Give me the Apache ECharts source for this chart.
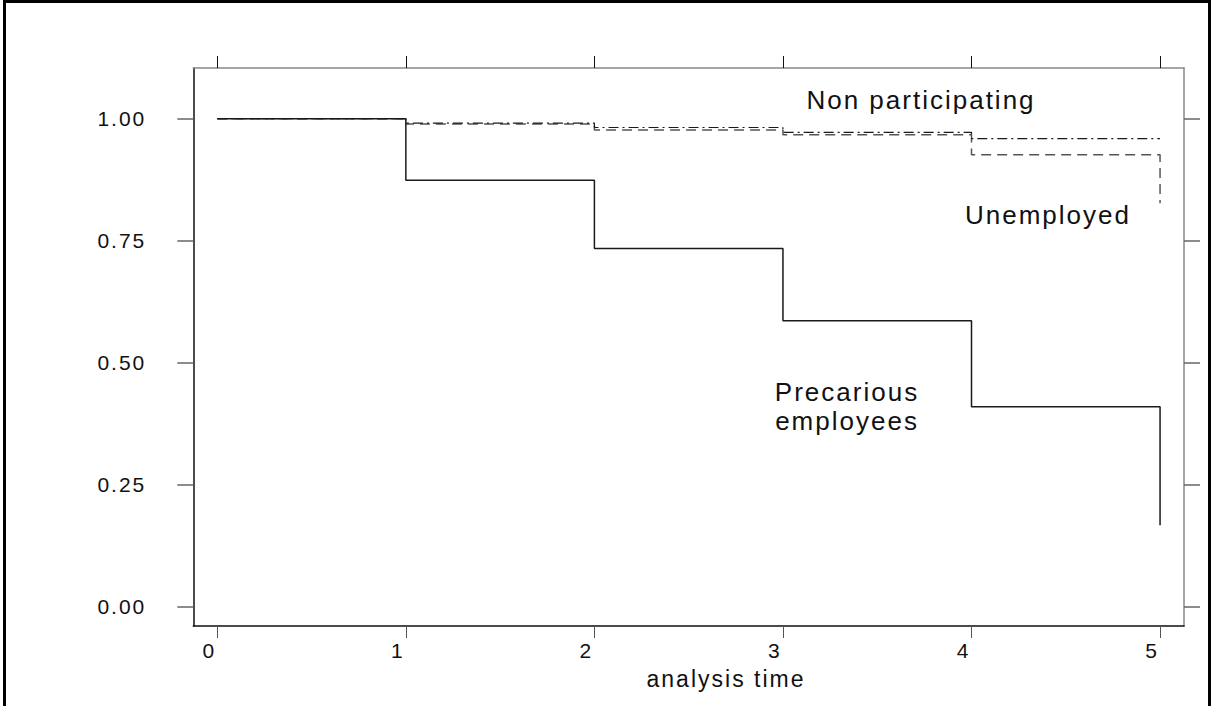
<!DOCTYPE html>
<html>
<head>
<meta charset="utf-8">
<script src="https://cdn.jsdelivr.net/npm/echarts@6/dist/echarts.min.js"></script>
<style>
  html, body { margin: 0; padding: 0; background: #fff; }
  #chart { width: 1213px; height: 706px; }
  #chart text { letter-spacing: 2px; }
</style>
</head>
<body>
<div id="chart"></div>
<script>
// ---- data ----
const times = [0, 1, 2, 3, 4, 5];
const precarious = [1.000, 0.874, 0.734, 0.586, 0.410, 0.167];
const nonParticipating = [1.000, 0.991, 0.982, 0.972, 0.959, 0.959];
const unemployed = [1.000, 0.989, 0.977, 0.967, 0.926, 0.827];
const xTicks = [0, 1, 2, 3, 4, 5];
const yTicks = [0, 0.25, 0.5, 0.75, 1];
const seriesNames = ['Precarious employees', 'Non participating', 'Unemployed'];
const xTitle = 'analysis time';

const pts = arr => times.map((t, i) => [t, arr[i]]);
const FONT = '"Liberation Sans", Arial, sans-serif';

const chart = echarts.init(document.getElementById('chart'), null, { renderer: 'svg' });

const xMin = -0.1273, xMax = 5.127;
const yMin = -0.0395, yMax = 1.1039;

const baseX = {
  type: 'value', min: xMin, max: xMax,
  splitLine: { show: false },
  axisTick: { show: true, inside: false, length: 12, customValues: xTicks, lineStyle: { color: '#555', width: 1 } }
};
const baseY = {
  type: 'value', min: yMin, max: yMax,
  splitLine: { show: false },
  axisTick: { show: true, inside: false, length: 16, customValues: yTicks, lineStyle: { color: '#666', width: 1.5 } }
};

chart.setOption({
  animation: false,
  backgroundColor: '#fff',
  grid: { left: 193.3, top: 68, right: 29, bottom: 80, containLabel: false },
  xAxis: [
    Object.assign({}, baseX, {
      position: 'bottom',
      axisLine: { show: true, onZero: false, lineStyle: { color: '#111', width: 1.5 } },
      axisLabel: { show: true, customValues: xTicks, margin: 14, color: '#111',
        fontSize: 21, fontFamily: FONT, padding: [0, 16, 0, 0],
        formatter: v => String(v) }
    }),
    Object.assign({}, baseX, {
      position: 'top',
      axisLine: { show: true, onZero: false, lineStyle: { color: '#888', width: 1.5 } },
      axisTick: Object.assign({}, baseX.axisTick, { lineStyle: { color: '#111', width: 1 } }),
      axisLabel: { show: false }
    })
  ],
  yAxis: [
    Object.assign({}, baseY, {
      position: 'left',
      axisLine: { show: true, onZero: false, lineStyle: { color: '#111', width: 1.5 } },
      axisLabel: { show: true, customValues: yTicks, margin: 47, color: '#111',
        fontSize: 21, fontFamily: FONT,
        formatter: v => v.toFixed(2) }
    }),
    Object.assign({}, baseY, {
      position: 'right',
      axisLine: { show: true, onZero: false, lineStyle: { color: '#888', width: 1.5 } },
      axisLabel: { show: false }
    })
  ],
  series: [
    { name: seriesNames[0], type: 'line', step: 'end', data: pts(precarious), showSymbol: false, symbol: 'none',
      lineStyle: { color: '#1a1a1a', width: 1.5, type: 'solid' }, z: 3 },
    { name: seriesNames[1], type: 'line', step: 'end', data: pts(nonParticipating), showSymbol: false, symbol: 'none',
      lineStyle: { color: '#1a1a1a', width: 1.2, type: [10, 4, 2, 4] }, z: 4 },
    { name: seriesNames[2], type: 'line', step: 'end', data: pts(unemployed), showSymbol: false, symbol: 'none',
      lineStyle: { color: '#555', width: 1.5, type: [10, 6] }, z: 2 }
  ],
  graphic: [
    { type: 'rect', silent: true, shape: { x: 4.5, y: 1.5, width: 1205, height: 730 },
      style: { fill: 'none', stroke: '#000', lineWidth: 3 } },
    { type: 'text', silent: true, x: 921, y: 100,
      style: { text: seriesNames[1], font: '26px ' + FONT, fill: '#111', textAlign: 'center', textVerticalAlign: 'middle' } },
    { type: 'text', silent: true, x: 1048, y: 215,
      style: { text: seriesNames[2], font: '26px ' + FONT, fill: '#111', textAlign: 'center', textVerticalAlign: 'middle' } },
    { type: 'text', silent: true, x: 847, y: 406,
      style: { text: 'Precarious\nemployees', font: '26px ' + FONT, lineHeight: 29, fill: '#111', textAlign: 'center', textVerticalAlign: 'middle' } },
    { type: 'text', silent: true, x: 726, y: 679,
      style: { text: xTitle, font: '23px ' + FONT, fill: '#111', textAlign: 'center', textVerticalAlign: 'middle' } }
  ]
});
</script>
</body>
</html>
